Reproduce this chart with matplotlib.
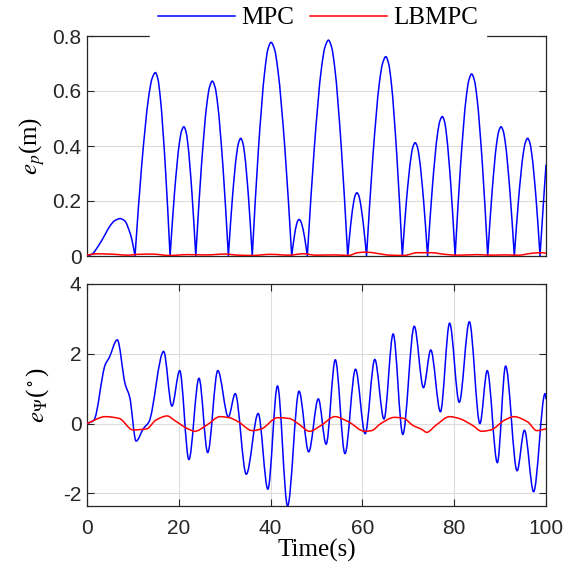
import matplotlib
matplotlib.use("Agg")
import matplotlib.pyplot as plt
from matplotlib.lines import Line2D
from matplotlib.path import Path
from matplotlib.patches import PathPatch

plt.rcParams['mathtext.fontset'] = 'stix'
plt.rcParams['axes.unicode_minus'] = False

# ---- Top panel: position error e_p (m) ----
mpc_p_t = [0, 1, 2.83, 4, 5.0, 6, 7.2, 8.2, 9.4, 9.9, 10.46,
           11.93, 13.43, 14.15, 14.9, 15.44, 15.96, 17.04, 18.1,
           19.09, 20.11, 20.59, 21.1, 21.54, 21.96, 22.84, 23.7,
           24.89, 26.11, 26.69, 27.3, 27.9, 28.46, 29.65, 30.8,
           31.69, 32.61, 33.04, 33.5, 33.93, 34.33, 35.18, 36.0,
           37.35, 38.75, 39.4, 40.1, 40.87, 41.59, 43.12, 44.6,
           45.13, 45.67, 45.93, 46.2, 46.51, 46.79, 47.41, 48.0,
           49.52, 51.08, 51.82, 52.6, 53.31, 53.99, 55.41, 56.8,
           57.46, 58.14, 58.46, 58.8, 59.16, 59.49, 60.21, 60.9,
           62.29, 63.71, 64.39, 65.1, 65.71, 66.29, 67.51, 68.7,
           69.62, 70.58, 71.02, 71.5, 71.96, 72.39, 73.31, 74.2,
           75.26, 76.34, 76.86, 77.4, 77.88, 78.32, 79.28, 80.2,
           81.39, 82.61, 83.19, 83.8, 84.4, 84.96, 86.15, 87.3,
           88.26, 89.24, 89.71, 90.2, 90.69, 91.16, 92.14, 93.1,
           94.06, 95.04, 95.51, 96.0, 96.46, 96.89, 97.81, 98.7,
           99.35, 100]
mpc_p_v = [0, 0.006, 0.046, 0.08, 0.109, 0.128, 0.136, 0.128, 0.082, 0.05, 0,
           0.333, 0.578, 0.644, 0.667, 0.644, 0.578, 0.333, 0,
           0.235, 0.409, 0.454, 0.47, 0.454, 0.409, 0.235, 0,
           0.318, 0.553, 0.614, 0.636, 0.614, 0.553, 0.318, 0,
           0.214, 0.372, 0.413, 0.428, 0.413, 0.372, 0.214, 0,
           0.389, 0.676, 0.751, 0.777, 0.751, 0.676, 0.389, 0,
           0.067, 0.116, 0.128, 0.133, 0.128, 0.116, 0.067, 0,
           0.393, 0.683, 0.758, 0.785, 0.758, 0.683, 0.393, 0,
           0.115, 0.2, 0.222, 0.23, 0.222, 0.2, 0.115, 0,
           0.363, 0.631, 0.7, 0.725, 0.7, 0.631, 0.363, 0,
           0.206, 0.358, 0.398, 0.412, 0.398, 0.358, 0.206, 0,
           0.254, 0.441, 0.49, 0.507, 0.49, 0.441, 0.254, 0,
           0.331, 0.576, 0.639, 0.662, 0.639, 0.576, 0.331, 0,
           0.235, 0.409, 0.454, 0.47, 0.454, 0.409, 0.235, 0,
           0.214, 0.372, 0.413, 0.428, 0.413, 0.372, 0.214, 0,
           0.17, 0.331]

lb_p_t = [0, 2, 5, 9, 11, 14, 18, 22, 26, 30, 33, 36, 40, 44, 47, 50, 54, 57,
          59, 61, 63, 66, 69, 72, 75, 78, 81, 85, 88, 91, 94, 97, 99, 100]
lb_p_v = [0.003, 0.008, 0.007, 0.003, 0.006, 0.007, 0.002, 0.005, 0.004, 0.007,
          0.003, 0.002, 0.006, 0.003, 0.008, 0.003, 0.004, 0.002, 0.012, 0.014,
          0.01, 0.003, 0.002, 0.012, 0.012, 0.006, 0.003, 0.005, 0.003, 0.004,
          0.003, 0.01, 0.012, 0.01]

# ---- Bottom panel: heading error e_psi (deg) ----
mpc_y_t = [0, 1.5, 4, 4.8, 6.6, 8.3, 9.3, 10.7, 12.3, 13.5, 16.7, 18.5, 20.2, 22.2,
           24.4, 26.3, 28.5, 30.8, 32.3, 34.7, 37.3, 39.4, 41.5, 43.7, 46.2, 48.3,
           50.4, 52.1, 54.1, 56.2, 58.5, 60.6, 62.7, 64.7, 66.7, 68.8, 71.3, 73.3,
           74.9, 77.0, 79.0, 81.1, 83.3, 85.6, 87.2, 89.4, 91.2, 93.7, 95.3, 97.3,
           99.8, 100]
mpc_y_v = [0, 0.1, 1.7, 1.88, 2.4, 1.14, 0.76, -0.5, -0.14, 0.05, 2.07, 0.5, 1.52,
           -1.03, 1.30, -0.83, 1.52, 0.19, 0.86, -1.45, 0.29, -1.88, 1.08, -2.36,
           0.93, -0.81, 0.71, -0.59, 1.83, -0.86, 1.56, -0.29, 1.84, 0.13, 2.57,
           -0.31, 2.79, 1.03, 2.11, 0.34, 2.88, 0.61, 2.92, 0.0, 1.52, -1.12, 1.65,
           -1.35, -0.19, -1.95, 0.86, 0.71]

lb_y_t = [0, 4, 7, 10, 13, 15, 17.5, 19, 22, 23.5, 26, 29, 31, 33, 36, 38, 41.5,
          44, 46, 48.5, 51, 54, 57, 60.5, 62, 64, 67, 69, 71, 73, 74, 76, 79, 81,
          84, 86, 88, 91, 93, 96, 98, 100]
lb_y_v = [0, 0.2, 0.15, -0.18, -0.15, 0.1, 0.22, 0.1, -0.15, -0.22, -0.05, 0.2,
          0.17, 0.05, -0.2, -0.15, 0.17, 0.15, 0, -0.22, -0.05, 0.2, 0.05, -0.22,
          -0.2, 0, 0.18, 0.15, -0.05, -0.17, -0.25, -0.05, 0.2, 0.15, -0.05, -0.22,
          -0.18, 0.1, 0.2, 0.05, -0.2, -0.15]

series_labels = ["MPC", "LBMPC"]
x_ticks = [0, 20, 40, 60, 80, 100]
top_yticks = [0, 0.2, 0.4, 0.6, 0.8]
top_yticklabels = ["0", "0.2", "0.4", "0.6", "0.8"]
bot_yticks = [-2, 0, 2, 4]
bot_yticklabels = ["-2", "0", "2", "4"]


def smooth_line(ax, t, v, color, lw=1.1, cusp_at_zero=False, zorder=3):
    """Draw a smooth curve through the listed points (cubic Bezier segments,
    monotone tangents); optional sharp corners at zero-valued points."""
    n = len(t)
    h = [t[k + 1] - t[k] for k in range(n - 1)]
    dl = [(v[k + 1] - v[k]) / h[k] for k in range(n - 1)]
    din = [0.0] * n   # tangent entering knot
    dout = [0.0] * n  # tangent leaving knot
    din[0] = dout[0] = dl[0]
    din[-1] = dout[-1] = dl[-1]
    for k in range(1, n - 1):
        a, b = dl[k - 1], dl[k]
        if cusp_at_zero and v[k] == 0:
            din[k], dout[k] = a, b
            continue
        if a * b <= 0:
            d = 0.0
        else:
            w1 = 2 * h[k] + h[k - 1]
            w2 = h[k] + 2 * h[k - 1]
            d = (w1 + w2) / (w1 / a + w2 / b)
        din[k] = dout[k] = d
    verts = [(t[0], v[0])]
    codes = [Path.MOVETO]
    for k in range(n - 1):
        hh = h[k] / 3.0
        verts += [(t[k] + hh, v[k] + dout[k] * hh),
                  (t[k + 1] - hh, v[k + 1] - din[k + 1] * hh),
                  (t[k + 1], v[k + 1])]
        codes += [Path.CURVE4] * 3
    patch = PathPatch(Path(verts, codes), fill=False, edgecolor=color, lw=lw,
                      zorder=zorder, capstyle='round', joinstyle='round')
    ax.add_patch(patch)


W, H = 571, 574
fig = plt.figure(figsize=(W / 100, H / 100), dpi=100)
ax1 = fig.add_axes([87 / W, 1 - 256 / H, 459 / W, 220 / H])
ax2 = fig.add_axes([87 / W, 1 - 506 / H, 459 / W, 222 / H])

blue, red = '#0000ff', '#ff0000'
tick_col = '#262626'
grid_col = '#dcdcdc'

smooth_line(ax1, mpc_p_t, mpc_p_v, blue, cusp_at_zero=True, zorder=3)
smooth_line(ax1, lb_p_t, lb_p_v, red, zorder=4)
smooth_line(ax2, mpc_y_t, mpc_y_v, blue, zorder=3)
smooth_line(ax2, lb_y_t, lb_y_v, red, zorder=4)

for ax in (ax1, ax2):
    ax.set_xlim(0, 100)
    for s in ax.spines.values():
        s.set_color(tick_col)
        s.set_linewidth(0.9)
    ax.tick_params(direction='in', length=5, width=0.8, colors=tick_col,
                   labelsize=15, top=True, right=True)
    ax.tick_params(axis='y', pad=4)
    ax.tick_params(axis='x', pad=9)

ax1.set_ylim(0, 0.8)
ax1.set_yticks(top_yticks)
ax1.set_yticklabels(top_yticklabels, family='Liberation Sans')
ax1.set_xticks([])
ax1.yaxis.grid(True, color=grid_col, lw=0.8)
ax1.set_axisbelow(True)

ax2.set_ylim(-2.36, 4)
ax2.set_yticks(bot_yticks)
ax2.set_yticklabels(bot_yticklabels, family='Liberation Sans')
ax2.set_xticks(x_ticks)
ax2.set_xticklabels([str(v) for v in x_ticks], family='Liberation Sans')
ax2.grid(True, color=grid_col, lw=0.8)
ax2.set_axisbelow(True)

ax1.set_ylabel(r'$e_p$(m)', fontsize=18, family='Liberation Serif', labelpad=4)
ax2.set_ylabel(r'$e_\mathit{\Psi}$($^\circ$)', fontsize=18, family='Liberation Serif', labelpad=9)
ax2.set_xlabel('Time(s)', fontsize=18, family='Liberation Serif', labelpad=1)

handles = [Line2D([], [], color=blue, lw=1.1), Line2D([], [], color=red, lw=1.1)]
leg = fig.legend(handles, series_labels, loc='center', ncol=2,
                 bbox_to_anchor=(318 / W, 1 - 18 / H),
                 prop={'family': 'Liberation Serif', 'size': 18},
                 frameon=True, fancybox=False, framealpha=1,
                 facecolor='white', edgecolor='white',
                 handlelength=3.1, handletextpad=0.25, columnspacing=0.6,
                 borderpad=0.3)

fig.savefig('out.png', dpi=100)
